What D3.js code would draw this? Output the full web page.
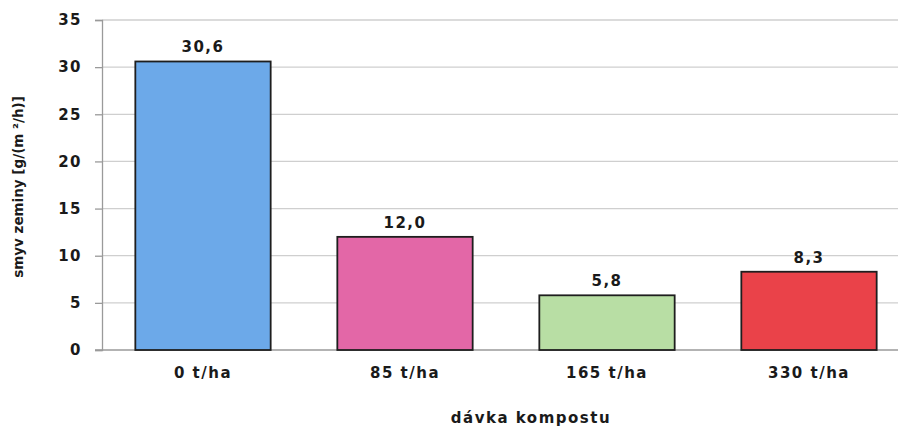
<!DOCTYPE html>
<html>
<head>
<meta charset="utf-8">
<script src="https://cdn.jsdelivr.net/npm/d3@7"></script>
<style>
  html, body { margin: 0; padding: 0; background: #fff; }
  svg { display: block; }
  text { font-family: "DejaVu Sans", "Open Sans", sans-serif; }
</style>
</head>
<body>
<svg id="chart" width="898" height="428"></svg>
<script>
// Soil loss by compost dose
const categories = ["0 t/ha", "85 t/ha", "165 t/ha", "330 t/ha"];
const values = [30.6, 12.0, 5.8, 8.3];
const valueLabels = ["30,6", "12,0", "5,8", "8,3"];
const barColors = ["#6ca9e9", "#e367a7", "#b8dea4", "#ea4249"];
const yTicks = [0, 5, 10, 15, 20, 25, 30, 35];

const svg = d3.select("#chart");
const plotLeft = 102, plotRight = 910, plotTop = 20, plotBottom = 350;
const labelFont = "'DejaVu Sans', sans-serif";

const x = d3.scaleBand().domain(categories).range([plotLeft, plotRight]).paddingInner(0.33).paddingOuter(0.165);
const y = d3.scaleLinear().domain([0, 35]).range([plotBottom, plotTop]);

// horizontal gridlines
svg.append("g").selectAll("line").data(yTicks.filter(d => d > 0)).join("line")
  .attr("x1", plotLeft).attr("x2", 898)
  .attr("y1", d => y(d)).attr("y2", d => y(d))
  .attr("stroke", "#cfcfcf").attr("stroke-width", 1.3);

// y axis
const yAxis = d3.axisLeft(y).tickValues(yTicks).tickSize(7).tickPadding(13).tickFormat(d3.format("d"));
const ya = svg.append("g").attr("transform", `translate(${plotLeft},0)`).call(yAxis);
ya.select(".domain").attr("stroke", "#9a9a9a").attr("stroke-width", 1.3);
ya.selectAll(".tick line").attr("stroke", "#9a9a9a").attr("stroke-width", 1.3);
ya.selectAll(".tick text")
  .attr("font-family", labelFont)
  .attr("font-size", 15).attr("font-weight", "bold").attr("fill", "#1a1a1a")
  .attr("letter-spacing", 1.5);

// baseline
svg.append("line").attr("x1", plotLeft - 7).attr("x2", 898)
  .attr("y1", y(0)).attr("y2", y(0))
  .attr("stroke", "#9a9a9a").attr("stroke-width", 1.5);

// bars
svg.append("g").selectAll("rect").data(values).join("rect")
  .attr("x", (d, i) => x(categories[i]))
  .attr("width", x.bandwidth())
  .attr("y", d => y(d))
  .attr("height", d => y(0) - y(d))
  .attr("fill", (d, i) => barColors[i])
  .attr("stroke", "#1e1e1e").attr("stroke-width", 1.8);

// value labels
svg.append("g").selectAll("text").data(values).join("text")
  .attr("x", (d, i) => x(categories[i]) + x.bandwidth() / 2)
  .attr("y", d => y(d) - 9)
  .attr("text-anchor", "middle")
  .attr("font-family", labelFont)
  .attr("font-size", 15).attr("font-weight", "bold").attr("fill", "#1a1a1a")
  .attr("letter-spacing", 1.5)
  .text((d, i) => valueLabels[i]);

// category labels
svg.append("g").selectAll("text").data(categories).join("text")
  .attr("x", d => x(d) + x.bandwidth() / 2)
  .attr("y", 378)
  .attr("text-anchor", "middle")
  .attr("font-family", labelFont)
  .attr("font-size", 15).attr("font-weight", "bold").attr("fill", "#1a1a1a")
  .attr("letter-spacing", 1.5)
  .text(d => d);

// axis titles
svg.append("text")
  .attr("x", 531).attr("y", 423)
  .attr("text-anchor", "middle")
  .attr("font-family", labelFont)
  .attr("font-size", 15).attr("font-weight", "bold").attr("fill", "#1a1a1a")
  .attr("letter-spacing", 1.5)
  .text("dávka kompostu");

svg.append("text")
  .attr("transform", "translate(23,187) rotate(-90)")
  .attr("text-anchor", "middle")
  .attr("font-family", "'Open Sans', sans-serif")
  .attr("font-size", 13.5).attr("font-weight", 600).attr("fill", "#1a1a1a")
  .text("smyv zeminy [g/(m ²/h)]");
</script>
</body>
</html>
